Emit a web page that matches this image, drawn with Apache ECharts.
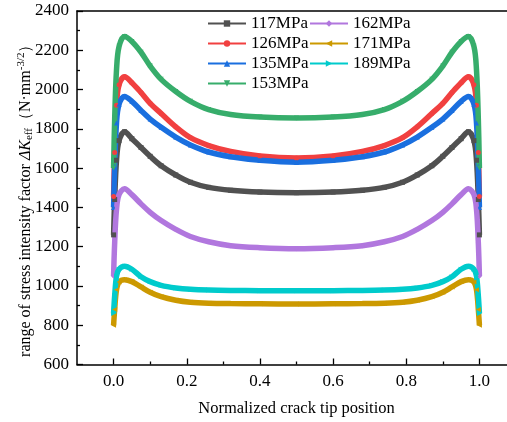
<!DOCTYPE html>
<html><head><meta charset="utf-8">
<script src="https://cdn.jsdelivr.net/npm/echarts@6/dist/echarts.min.js"></script>
<style>html,body{margin:0;padding:0;background:#fff}#c{width:507px;height:422px}</style>
</head><body><div id="c"></div>
<script>
const xPos = [0, 0.003, 0.008, 0.015, 0.03, 0.05, 0.075, 0.1, 0.13, 0.17, 0.21, 0.26, 0.32, 0.4, 0.5, 0.6, 0.68, 0.74, 0.79, 0.83, 0.87, 0.9, 0.925, 0.95, 0.97, 0.985, 0.992, 0.997, 1.0];
const s117 = [1260,1440,1640,1740,1785,1750,1705,1660,1612,1565,1528,1502,1487,1478,1475,1478,1487,1502,1528,1565,1612,1660,1705,1750,1785,1740,1640,1440,1260];
const s126 = [1455,1680,1920,2025,2065,2035,1985,1930,1878,1810,1755,1715,1685,1662,1652,1662,1685,1715,1755,1810,1878,1930,1985,2035,2065,2025,1920,1680,1455];
const s135 = [1400,1610,1830,1925,1965,1940,1893,1850,1808,1758,1718,1682,1658,1640,1630,1640,1658,1682,1718,1758,1808,1850,1893,1940,1965,1925,1830,1610,1400];
const s153 = [1600,1850,2100,2220,2270,2245,2190,2120,2052,1990,1940,1898,1873,1860,1855,1860,1873,1898,1940,1990,2052,2120,2190,2245,2270,2220,2100,1850,1600];
const s162 = [1050,1220,1390,1465,1495,1465,1418,1375,1333,1288,1252,1225,1205,1195,1190,1195,1205,1225,1252,1288,1333,1375,1418,1465,1495,1465,1390,1220,1050];
const s171 = [800,880,980,1020,1032,1022,995,968,945,927,917,912,910,909,908,909,910,912,917,927,945,968,995,1022,1032,1020,980,880,800];
const s189 = [860,950,1050,1085,1100,1085,1047,1022,1003,990,983,979,977,976,975,976,977,979,983,990,1003,1022,1047,1085,1100,1085,1050,950,860];
const names = ['117MPa','126MPa','135MPa','153MPa','162MPa','171MPa','189MPa'];
const values = [s117, s126, s135, s153, s162, s171, s189];
const colors = ['#515151','#F14040','#1A6FDF','#37AD6B','#B177DE','#CC9900','#00CBCC'];
const symbols = ['rect','circle','triangle','triangle','diamond','triangle','triangle'];
const rotates = [0,0,0,180,0,90,-90];
const xMajor = [0, 0.2, 0.4, 0.6, 0.8, 1.0];
const xMinor = [0.1, 0.3, 0.5, 0.7, 0.9];

const FONT = '"Liberation Serif", "Times New Roman", serif';
const series = names.map((n, i) => ({
  name: n, type: 'line', xAxisIndex: 0, yAxisIndex: 0,
  data: xPos.map((x, j) => [x, values[i][j]]),
  smooth: 0.35,
  symbol: symbols[i], symbolRotate: rotates[i], symbolSize: 5, showSymbol: true,
  lineStyle: { width: 5.5, color: colors[i] },
  itemStyle: { color: colors[i] },
  color: colors[i],
  z: 2
}));

const chart = echarts.init(document.getElementById('c'), null, { renderer: 'canvas' });
const legendBase = {
  orient: 'vertical', itemWidth: 38, itemHeight: 8, itemGap: 3,
  textStyle: { fontFamily: FONT, fontSize: 17, color: '#000', lineHeight: 17 },
  lineStyle: { width: 2 }, symbolRotate: 'inherit', padding: 0
};
chart.setOption({
  animation: false,
  backgroundColor: '#fff',
  grid: { left: 77, width: 439, top: 11, height: 353.5, containLabel: false, outerBoundsMode: 'none' },
  legend: [
    Object.assign({}, legendBase, { left: 207, top: 15, data: names.slice(0, 4) }),
    Object.assign({}, legendBase, { left: 309, top: 15, data: names.slice(4) })
  ],
  xAxis: [
    {
      type: 'value', min: -0.1, max: 1.1, position: 'bottom',
      name: 'Normalized crack tip position', nameLocation: 'middle', nameGap: 36, nameMoveOverlap: false,
      nameTextStyle: { fontFamily: FONT, fontSize: 16.5, color: '#000' },
      axisLine: { show: true, onZero: false, lineStyle: { color: '#000', width: 1.5 } },
      axisTick: { show: true, inside: true, length: 6, customValues: xMajor, lineStyle: { color: '#000', width: 1.3 } },
      axisLabel: { show: true, customValues: xMajor, margin: 9, fontFamily: FONT, fontSize: 17, color: '#000',
        formatter: v => v.toFixed(1) },
      splitLine: { show: false }
    },
    {
      type: 'value', min: -0.1, max: 1.1, position: 'bottom', gridIndex: 0,
      axisLine: { show: false, onZero: false },
      axisTick: { show: true, inside: true, length: 3, customValues: xMinor, lineStyle: { color: '#000', width: 1.3 } },
      axisLabel: { show: false }, splitLine: { show: false }
    },
    {
      type: 'value', min: -0.1, max: 1.1, position: 'top', gridIndex: 0,
      axisLine: { show: true, onZero: false, lineStyle: { color: '#000', width: 1.5 } },
      axisTick: { show: false }, axisLabel: { show: false }, splitLine: { show: false }
    }
  ],
  yAxis: [
    {
      type: 'value', min: 600, max: 2400, interval: 200, position: 'left',
      name: '{a|range of stress intensity factor }{i|ΔK}{s|eff}{a|（N·mm}{p|-3/2}{a|）}',
      nameLocation: 'middle', nameRotate: 90, nameGap: 42, nameMoveOverlap: false,
      nameTextStyle: {
        fontFamily: FONT, fontSize: 16, color: '#000', padding: [0, 18, 0, 0],
        rich: {
          a: { fontFamily: FONT, fontSize: 16, color: '#000' },
          i: { fontFamily: FONT, fontSize: 16, fontStyle: 'italic', color: '#000' },
          s: { fontFamily: FONT, fontSize: 11, color: '#000', padding: [7, 0, 0, 0], verticalAlign: 'bottom' },
          p: { fontFamily: FONT, fontSize: 11, color: '#000', padding: [0, 0, 8, 0], verticalAlign: 'top' }
        }
      },
      axisLine: { show: true, onZero: false, lineStyle: { color: '#000', width: 1.5 } },
      axisTick: { show: true, inside: true, length: 6, lineStyle: { color: '#000', width: 1.3 } },
      minorTick: { show: true, splitNumber: 2, length: 3, lineStyle: { color: '#000', width: 1.3 } },
      axisLabel: { margin: 8, fontFamily: FONT, fontSize: 17, color: '#000', formatter: v => String(v) },
      splitLine: { show: false }
    },
    {
      type: 'value', min: 600, max: 2400, position: 'right',
      axisLine: { show: true, onZero: false, lineStyle: { color: '#000', width: 1.5 } },
      axisTick: { show: false }, axisLabel: { show: false }, splitLine: { show: false }
    }
  ],
  series: series
});
</script></body></html>
